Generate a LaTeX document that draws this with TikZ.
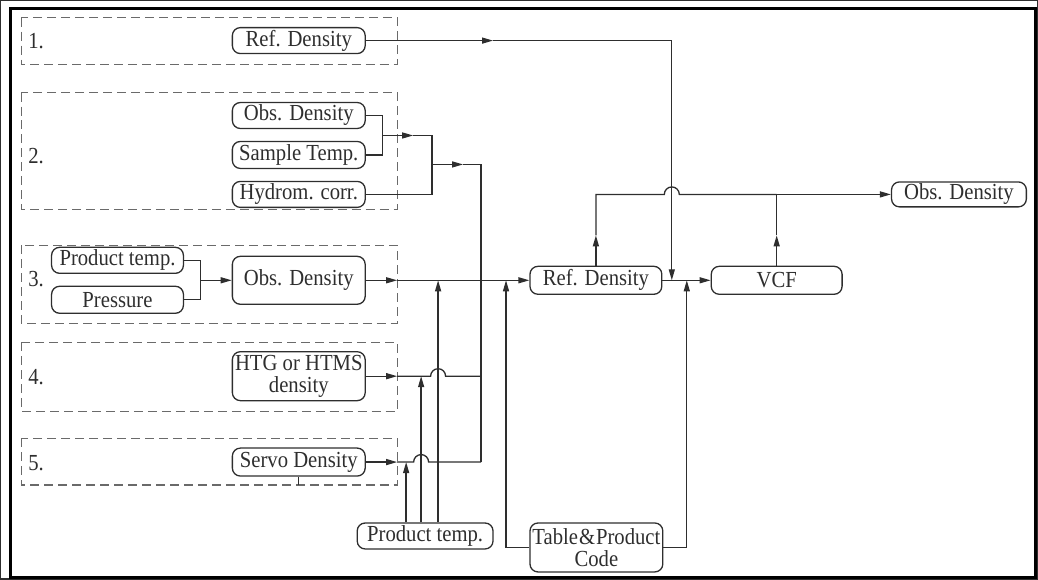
\documentclass[tikz,border=0pt]{standalone}
\usepackage{fontspec}
\setmainfont{Liberation Serif}[FakeStretch=0.9]
\usetikzlibrary{arrows.meta}
\definecolor{ln}{HTML}{2E2E2E}
\definecolor{dg}{HTML}{6A6A6A}
\begin{document}
\begin{tikzpicture}[x=1pt,y=-1pt,
  every path/.style={line width=1.3pt, draw=ln},
  box/.style={draw=ln, line width=1.3pt, rounded corners=8pt, inner sep=0pt,
    text=ln, font=\fontsize{23}{22}\selectfont, align=center},
  lbl/.style={inner sep=0pt, anchor=west, text=ln, font=\fontsize{23}{22}\selectfont},
  dbox/.style={draw=dg, line width=1.2pt, dash pattern=on 9pt off 5pt},
  arr/.style={-{Triangle[length=11pt,width=6pt]}}
]
\useasboundingbox (0,0) rectangle (1038,579);
\draw[line width=3pt, draw=black] (10,8) rectangle (1036,578);

% dashed groups
\draw[dbox] (20.5,17) rectangle (397,64);
\draw[dbox] (20.5,92) rectangle (397,209);
\draw[dbox] (20.5,245) rectangle (397,323);
\draw[dbox] (20.5,342) rectangle (397,411);
\draw[dbox] (20.5,438) rectangle (397,485);

% labels
\node[lbl] (l1) at (27,40.5) {1.};
\node[lbl] (l2) at (27,156) {2.};
\node[lbl] (l3) at (27,279) {3.};
\node[lbl] (l4) at (27,377) {4.};
\node[lbl] (l5) at (27,463) {5.};

% nodes
\node[box, minimum width=133pt, minimum height=26pt] (r1) at (298.5,40) {Ref. Density};
\node[box, minimum width=133pt, minimum height=26pt] (o2) at (298.5,115) {Obs. Density};
\node[box, minimum width=133pt, minimum height=27pt] (s2) at (298.5,154.5) {Sample Temp.};
\node[box, minimum width=133pt, minimum height=26pt] (h2) at (298.5,194) {Hydrom. corr.};
\node[box, minimum width=132pt, minimum height=26pt] (p3) at (117,260) {Product temp.};
\node[box, minimum width=132pt, minimum height=27pt] (pr3) at (117,299.5) {Pressure};
\node[box, minimum width=133pt, minimum height=48pt] (o3) at (298.5,280) {Obs. Density};
\node[box, minimum width=133pt, minimum height=49pt] (htg) at (298.5,376) {HTG or HTMS\\density};
\node[box, minimum width=133pt, minimum height=28pt] (sv) at (298.5,462) {Servo Density};
\node[box, minimum width=136pt, minimum height=26pt] (pt) at (425,536) {Product temp.};
\node[box, minimum width=132pt, minimum height=28pt] (ref) at (596,280) {Ref. Density};
\node[box, minimum width=131pt, minimum height=28pt] (vcf) at (777,280) {VCF};
\node[box, minimum width=135pt, minimum height=25pt] (od) at (959.5,194) {Obs. Density};
\node[box, minimum width=133pt, minimum height=49pt] (tpc) at (596.5,547.5) {Table\kern1pt\&\kern1pt Product\\Code};

% coordinates
\coordinate (a1) at (493,40);
\coordinate (c1b) at (672,280);
\coordinate (b2a) at (382,135);
\coordinate (a2a) at (413,135);
\coordinate (b2b) at (432,164);
\coordinate (a2b) at (463,164);
\coordinate (v5) at (481,462);
\coordinate (v4) at (481,376);
\coordinate (b3) at (200,280);
\coordinate (a3) at (397,280);
\coordinate (a4) at (397,376);
\coordinate (h4) at (438,376);
\coordinate (a5) at (397,462);
\coordinate (h5) at (421,462);
\coordinate (e5) at (406,462);
\coordinate (e4) at (421,376);
\coordinate (e3) at (438,280);
\coordinate (e6) at (506,280);
\coordinate (e7) at (687,280);
\coordinate (t1) at (596,235);
\coordinate (t2) at (596,194);
\coordinate (h0) at (672,194);
\coordinate (t3) at (777,194);
\coordinate (t4) at (777,235);
\coordinate (sb) at (298.5,485);

% group 1
\draw[arr] (r1.east) -- (a1);
\draw[arr] (a1) -| (c1b);

% group 2
\draw (o2.east) -| (b2a) |- (s2.east);
\draw[arr] (b2a) -- (a2a);
\draw (a2a) -| (b2b) |- (h2.east);
\draw[arr] (b2b) -- (a2b);
\draw (a2b) -| (v5);

% group 3
\draw (p3.east) -| (b3) |- (pr3.east);
\draw[arr] (b3) -- (o3.west);
\draw[arr] (o3.east) -- (a3);
\draw[arr] (a3) -- (ref.west);

% group 4
\draw[arr] (htg.east) -- (a4);
\draw (a4) -- ([xshift=-7.5pt]h4) arc[start angle=180, end angle=0, radius=7.5pt] -- (v4);

% group 5
\draw[arr] (sv.east) -- (a5);
\draw (a5) -- ([xshift=-7.5pt]h5) arc[start angle=180, end angle=0, radius=7.5pt] -- (v5);
\draw (sv.south) -- (sb);

% product temp feeds
\draw[arr] (e5 |- pt.north) -- (e5);
\draw[arr] (e4 |- pt.north) -- (e4);
\draw[arr] (e3 |- pt.north) -- (e3);

% table & product code
\draw[arr] (tpc.west) -| (e6);
\draw[arr] (tpc.east) -| (e7);

% main
\draw[arr] (ref.east) -- (vcf.west);
\draw[arr] (ref.north) -- (t1);
\draw (t1) -- (t2) -- ([xshift=-7.5pt]h0) arc[start angle=180, end angle=0, radius=7.5pt] -- (t3);
\draw[arr] (vcf.north) -- (t4);
\draw (t4) -- (t3);
\draw[arr] (t3) -- (od.west);
\end{tikzpicture}
\end{document}
